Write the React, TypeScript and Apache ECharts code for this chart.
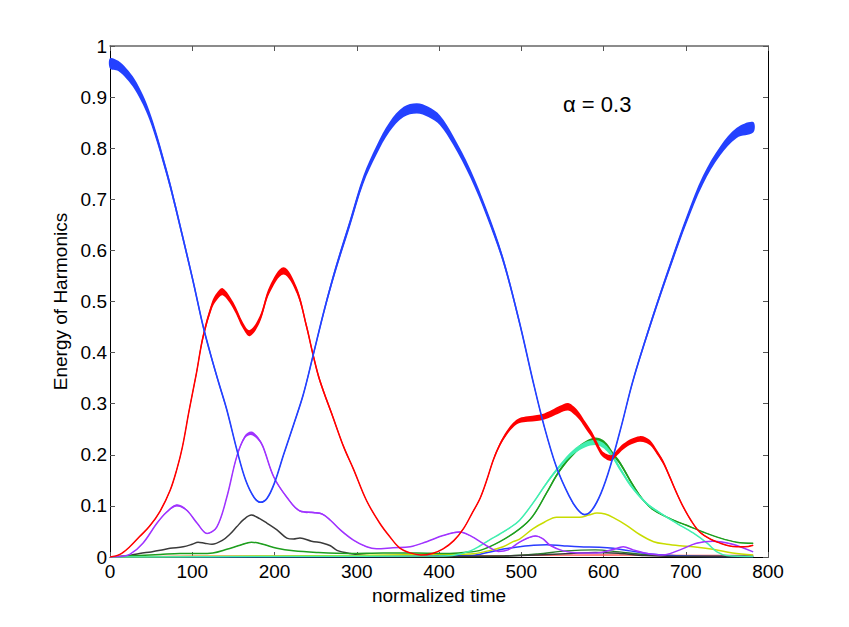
import React, { useEffect, useRef } from "react";
import * as echarts from "echarts";

// ---- data: [time, energy, band width] ----
const blueMain: number[][] = [
  [0, 0.966, 0.02], [10, 0.961, 0.02], [20, 0.946, 0.02], [30, 0.925, 0.02], [40, 0.895, 0.019],
  [48, 0.864, 0.018], [57, 0.82, 0.017], [65, 0.775, 0.016], [73, 0.728, 0.015], [81, 0.676, 0.014],
  [89, 0.622, 0.013], [101, 0.54, 0.012], [113, 0.453, 0.01], [122, 0.398, 0.009], [132, 0.342, 0.008],
  [142, 0.288, 0.007], [155, 0.205, 0.005], [165, 0.15, 0.004], [175, 0.117, 0.003], [183, 0.107, 0.003],
  [191, 0.115, 0.003], [200, 0.145, 0.004], [211, 0.2, 0.005], [223, 0.258, 0.006], [235, 0.318, 0.007],
  [247, 0.395, 0.009], [260, 0.48, 0.011], [274, 0.562, 0.013], [292, 0.655, 0.015], [308, 0.738, 0.016],
  [324, 0.796, 0.018], [340, 0.842, 0.019], [357, 0.871, 0.02], [373, 0.878, 0.02],
  [387, 0.871, 0.02], [401, 0.855, 0.019], [417, 0.816, 0.018], [438, 0.751, 0.017], [458, 0.673, 0.015],
  [478, 0.581, 0.013], [498, 0.458, 0.011], [514, 0.346, 0.008], [528, 0.255, 0.006], [543, 0.175, 0.004],
  [558, 0.12, 0.003], [568, 0.094, 0.003], [577, 0.083, 0.002], [586, 0.092, 0.002], [597, 0.125, 0.003],
  [608, 0.176, 0.004], [622, 0.258, 0.006], [636, 0.346, 0.008], [660, 0.47, 0.011], [681, 0.57, 0.013],
  [701, 0.66, 0.015], [721, 0.738, 0.017], [742, 0.795, 0.018], [762, 0.83, 0.02], [782, 0.841, 0.021],
];

const red: number[][] = [
  [0, 0, 0], [12, 0.005, 0.001], [24, 0.02, 0.001], [36, 0.04, 0.002], [48, 0.06, 0.002],
  [61, 0.09, 0.003], [73, 0.13, 0.004], [81, 0.17, 0.005], [88, 0.215, 0.006], [96, 0.285, 0.008],
  [105, 0.359, 0.01], [113, 0.43, 0.012], [124, 0.493, 0.013], [130, 0.51, 0.014], [137, 0.519, 0.014],
  [150, 0.492, 0.013], [162, 0.452, 0.012], [170, 0.438, 0.012], [182, 0.465, 0.013], [194, 0.523, 0.014],
  [211, 0.56, 0.014], [227, 0.522, 0.013], [239, 0.451, 0.011], [247, 0.395, 0.01], [255, 0.346, 0.009],
  [271, 0.274, 0.007], [284, 0.216, 0.005], [296, 0.172, 0.004], [312, 0.11, 0.003], [328, 0.066, 0.002],
  [340, 0.04, 0.001], [352, 0.018, 0.001], [365, 0.008, 0], [378, 0.004, 0], [392, 0.007, 0],
  [405, 0.016, 0.001], [418, 0.032, 0.001], [430, 0.056, 0.002], [440, 0.085, 0.003], [450, 0.115, 0.004],
  [458, 0.15, 0.005], [466, 0.19, 0.006], [474, 0.22, 0.007], [482, 0.242, 0.008], [490, 0.258, 0.009],
  [498, 0.267, 0.01], [508, 0.27, 0.011], [519, 0.272, 0.012], [528, 0.275, 0.012], [537, 0.281, 0.013],
  [547, 0.289, 0.014], [557, 0.294, 0.015], [564, 0.287, 0.015], [571, 0.275, 0.014], [578, 0.258, 0.013],
  [586, 0.239, 0.012], [592, 0.22, 0.012], [598, 0.203, 0.011], [604, 0.196, 0.011], [610, 0.194, 0.011],
  [617, 0.205, 0.011], [624, 0.216, 0.011], [634, 0.226, 0.011], [644, 0.231, 0.011], [651, 0.229, 0.011],
  [657, 0.223, 0.01], [665, 0.205, 0.009], [673, 0.184, 0.008], [681, 0.155, 0.007], [689, 0.125, 0.005],
  [697, 0.098, 0.004], [707, 0.07, 0.003], [717, 0.049, 0.002], [730, 0.035, 0.002], [742, 0.027, 0.001],
  [752, 0.022, 0.001], [762, 0.02, 0.001], [772, 0.02, 0.001], [782, 0.023, 0.001],
];

const purple: number[][] = [
  [0, 0, 0], [12, 0.001, 0], [24, 0.005, 0], [40, 0.027, 0.001], [57, 0.066, 0.002],
  [69, 0.088, 0.003], [81, 0.101, 0.004], [93, 0.092, 0.003], [106, 0.066, 0.002], [118, 0.046, 0.002],
  [130, 0.059, 0.002], [142, 0.117, 0.003], [154, 0.196, 0.005], [164, 0.235, 0.006], [172, 0.242, 0.007],
  [180, 0.232, 0.006], [186, 0.216, 0.005], [199, 0.157, 0.004], [215, 0.117, 0.003], [231, 0.09, 0.003],
  [247, 0.087, 0.003], [258, 0.084, 0.003], [268, 0.072, 0.002], [280, 0.053, 0.002], [296, 0.033, 0.001],
  [312, 0.02, 0.001], [324, 0.016, 0], [344, 0.018, 0], [365, 0.02, 0], [385, 0.03, 0.001],
  [405, 0.042, 0.001], [425, 0.049, 0.002], [440, 0.04, 0.001], [450, 0.03, 0.001], [460, 0.02, 0.001],
  [472, 0.011, 0], [484, 0.014, 0], [498, 0.029, 0.001], [517, 0.041, 0.002], [526, 0.036, 0.001],
  [535, 0.023, 0.001], [551, 0.012, 0], [570, 0.008, 0], [592, 0.008, 0], [610, 0.014, 0],
  [624, 0.02, 0], [636, 0.014, 0], [650, 0.008, 0], [672, 0.004, 0], [693, 0.014, 0],
  [713, 0.027, 0.001], [733, 0.031, 0.001], [757, 0.025, 0.001], [782, 0.01, 0],
];

const green: number[][] = [
  [0, 0, 0], [36, 0.003, 0], [61, 0.005, 0], [85, 0.007, 0], [109, 0.007, 0],
  [125, 0.008, 0], [142, 0.015, 0], [158, 0.023, 0.001], [172, 0.029, 0.001], [186, 0.025, 0.001],
  [203, 0.017, 0], [223, 0.012, 0], [251, 0.009, 0], [292, 0.007, 0], [332, 0.008, 0],
  [373, 0.008, 0], [409, 0.007, 0], [430, 0.009, 0], [450, 0.013, 0], [474, 0.03, 0.001],
  [498, 0.055, 0.002], [514, 0.08, 0.003], [531, 0.126, 0.004], [547, 0.17, 0.006], [567, 0.209, 0.008],
  [580, 0.224, 0.009], [590, 0.229, 0.01], [598, 0.226, 0.009], [604, 0.218, 0.009], [612, 0.2, 0.008],
  [620, 0.184, 0.007], [636, 0.14, 0.006], [648, 0.112, 0.004], [661, 0.092, 0.003], [681, 0.075, 0.002],
  [701, 0.062, 0.002], [721, 0.049, 0.001], [742, 0.037, 0.001], [762, 0.029, 0.001], [782, 0.027, 0.001],
];

const aqua: number[][] = [
  [0, 0, 0], [200, 0.001, 0], [400, 0.002, 0], [420, 0.004, 0], [438, 0.012, 0],
  [450, 0.022, 0], [462, 0.034, 0.001], [474, 0.045, 0.001], [486, 0.057, 0.002], [498, 0.072, 0.002],
  [514, 0.105, 0.003], [531, 0.145, 0.005], [547, 0.178, 0.007], [563, 0.205, 0.009], [578, 0.22, 0.01],
  [590, 0.224, 0.01], [598, 0.22, 0.01], [604, 0.212, 0.01], [612, 0.195, 0.009], [620, 0.173, 0.008],
  [636, 0.134, 0.006], [653, 0.104, 0.004], [669, 0.086, 0.003], [689, 0.066, 0.002], [709, 0.047, 0.001],
  [726, 0.027, 0.001], [738, 0.01, 0], [750, 0.003, 0], [782, 0.001, 0],
];

// ---- thin curves: [time, energy] ----
const darkGray: number[][] = [
  [0, 0], [20, 0.002], [36, 0.007], [50, 0.01], [61, 0.013], [73, 0.017], [89, 0.02], [100, 0.025],
  [107, 0.029], [115, 0.027], [124, 0.025], [137, 0.033], [146, 0.045], [154, 0.059], [163, 0.074],
  [172, 0.082], [182, 0.075], [191, 0.066], [203, 0.053], [215, 0.037], [223, 0.035], [231, 0.037],
  [245, 0.031], [259, 0.027], [268, 0.022], [276, 0.013], [292, 0.007], [312, 0.003], [340, 0.001],
  [400, 0.001], [480, 0.002], [520, 0.004], [560, 0.007], [590, 0.009], [620, 0.007], [650, 0.003],
  [700, 0.001], [782, 0.001],
];

const yellow: number[][] = [
  [0, 0], [100, 0.001], [200, 0.002], [300, 0.003], [377, 0.005], [438, 0.006], [460, 0.012],
  [478, 0.02], [490, 0.03], [498, 0.035], [514, 0.055], [528, 0.068], [543, 0.078], [555, 0.078],
  [571, 0.078], [582, 0.082], [592, 0.086], [602, 0.084], [612, 0.077], [628, 0.062], [644, 0.044],
  [661, 0.03], [677, 0.025], [693, 0.022], [709, 0.02], [733, 0.015], [757, 0.008], [782, 0.004],
];

const blueSmall: number[][] = [
  [0, 0], [300, 0.001], [440, 0.003], [462, 0.01], [480, 0.016], [498, 0.02], [515, 0.023],
  [531, 0.024], [550, 0.022], [571, 0.02], [595, 0.019], [612, 0.017], [632, 0.012], [648, 0.008],
  [665, 0.005], [693, 0.002], [782, 0.001],
];

const greenSmall: number[][] = [
  [0, 0], [400, 0.001], [480, 0.002], [520, 0.006], [555, 0.012], [590, 0.014], [619, 0.01],
  [650, 0.005], [700, 0.002], [782, 0.001],
];

const redLow: number[][] = [
  [0, 0], [100, 0.002], [300, 0.002], [500, 0.003], [600, 0.004], [700, 0.003], [782, 0.003],
];

const xTicks = { min: 0, max: 800, step: 100 };
const yTicks = { min: 0, max: 1, step: 0.1 };
const annotation = "α = 0.3";

const FONT = "'Liberation Sans', Arial, Helvetica, sans-serif";

function lineSeries(name: string, data: number[][], color: string, width: number, z: number) {
  return {
    type: "line",
    name,
    data: data.map((d) => [d[0], d[1]]),
    symbol: "none",
    showSymbol: false,
    smooth: 0.35,
    silent: true,
    z,
    lineStyle: { color, width },
    xAxisIndex: 0,
    yAxisIndex: 0,
  };
}

function bandSeries(name: string, data: number[][], color: string, z: number) {
  return {
    type: "custom",
    name: name + " spread",
    coordinateSystem: "cartesian2d",
    xAxisIndex: 0,
    yAxisIndex: 0,
    silent: true,
    z,
    data: [[data[0][0], data[0][1]]],
    renderItem: (_params: any, api: any) => {
      const upper = data.map((d) => api.coord([d[0], d[1] + d[2] / 2]));
      const lower = data
        .slice()
        .reverse()
        .map((d) => api.coord([d[0], d[1] - d[2] / 2]));
      return {
        type: "polygon",
        shape: { points: upper.concat(lower), smooth: 0.35 },
        style: { fill: color, stroke: null },
      };
    },
  };
}

export default function App() {
  const ref = useRef<HTMLDivElement>(null);

  useEffect(() => {
    if (!ref.current) return;
    const chart = echarts.init(ref.current, undefined, { renderer: "svg" });

    const C = {
      blue: "#2441ff",
      red: "#ff0000",
      purple: "#a033ff",
      gray: "#3a3a3a",
      green: "#1e9e1e",
      aqua: "#42eeb0",
      yellow: "#c8dc00",
      blueSmall: "#2a3cff",
      greenSmall: "#2b7a2b",
      redLow: "#ff5050",
    };

    const axisCommon = {
      type: "value",
      splitLine: { show: false },
      axisLine: { show: true, onZero: false, lineStyle: { color: "#000", width: 1 } },
      axisTick: { show: true, inside: true, length: 5, lineStyle: { color: "#555", width: 1 } },
    };

    const option: any = {
      animation: false,
      backgroundColor: "#fff",
      textStyle: { fontFamily: FONT },
      grid: { left: 110, right: 81, top: 46, bottom: 70, containLabel: false },
      xAxis: [
        {
          ...axisCommon,
          min: xTicks.min,
          max: xTicks.max,
          interval: xTicks.step,
          position: "bottom",
          name: "normalized time",
          nameLocation: "middle",
          nameGap: 24,
          nameTextStyle: { fontSize: 19, color: "#000", fontFamily: FONT },
          axisLabel: { fontSize: 19, color: "#000", margin: 5, fontFamily: FONT },
        },
        {
          ...axisCommon,
          axisLine: { show: true, onZero: false, lineStyle: { color: "#666", width: 1.5 } },
          min: xTicks.min,
          max: xTicks.max,
          interval: xTicks.step,
          position: "top",
          axisLabel: { show: false },
        },
      ],
      yAxis: [
        {
          ...axisCommon,
          min: yTicks.min,
          max: yTicks.max,
          interval: yTicks.step,
          position: "left",
          name: "Energy of Harmonics",
          nameLocation: "middle",
          nameGap: 36,
          nameTextStyle: { fontSize: 19, color: "#000", fontFamily: FONT },
          axisLabel: {
            fontSize: 19,
            color: "#000",
            margin: 3,
            fontFamily: FONT,
            formatter: (v: number) => String(Math.round(v * 10) / 10),
          },
        },
        {
          ...axisCommon,
          min: yTicks.min,
          max: yTicks.max,
          interval: yTicks.step,
          position: "right",
          axisLabel: { show: false },
        },
      ],
      graphic: [
        {
          type: "text",
          x: 563,
          y: 104,
          style: {
            text: annotation,
            fontSize: 22,
            fontFamily: FONT,
            fill: "#000",
            verticalAlign: "middle",
            align: "left",
          },
        },
      ],
      series: [
        lineSeries("H low red", redLow, C.redLow, 1.2, 2),
        lineSeries("H small green", greenSmall, C.greenSmall, 1.4, 2),
        lineSeries("H small blue", blueSmall, C.blueSmall, 1.5, 3),
        lineSeries("H gray", darkGray, C.gray, 1.5, 3),
        lineSeries("H yellow", yellow, C.yellow, 1.5, 3),
        bandSeries("H green", green, C.green, 4),
        lineSeries("H green", green, C.green, 1.5, 4),
        bandSeries("H aqua", aqua, C.aqua, 5),
        lineSeries("H aqua", aqua, C.aqua, 1.5, 5),
        bandSeries("H purple", purple, C.purple, 6),
        lineSeries("H purple", purple, C.purple, 1.5, 6),
        bandSeries("H red", red, C.red, 7),
        lineSeries("H red", red, C.red, 1.5, 7),
        bandSeries("H blue", blueMain, C.blue, 8),
        lineSeries("H blue", blueMain, C.blue, 1.6, 8),
      ],
    };

    chart.setOption(option);
    return () => {
      chart.dispose();
    };
  }, []);

  return (
    <div
      ref={ref}
      style={{ position: "absolute", left: 0, top: 0, width: 849, height: 627, background: "#fff" }}
    />
  );
}
